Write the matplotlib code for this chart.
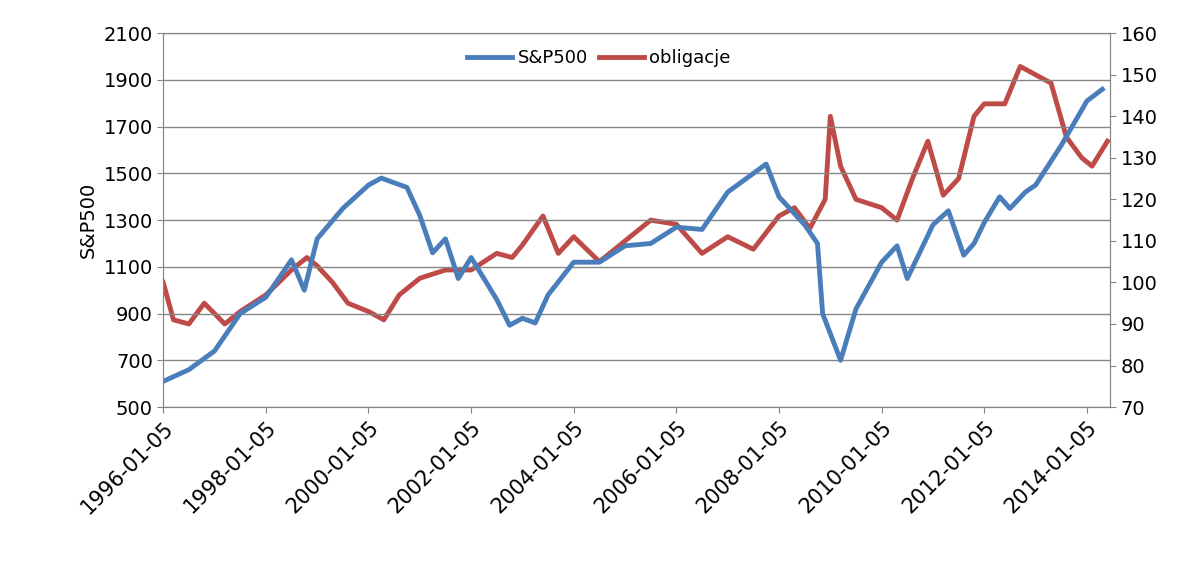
import matplotlib
matplotlib.use('Agg')
import matplotlib.pyplot as plt

# fractional years, values
sp_years = [1996.0, 1996.5, 1997.0, 1997.5, 1998.0, 1998.5, 1998.75, 1999.0, 1999.5, 2000.0,
            2000.25, 2000.5, 2000.75, 2001.0, 2001.25, 2001.5, 2001.75, 2002.0, 2002.5, 2002.75,
            2003.0, 2003.25, 2003.5, 2004.0, 2004.5, 2005.0, 2005.5, 2006.0, 2006.5, 2007.0,
            2007.5, 2007.75, 2008.0, 2008.5, 2008.75, 2008.85, 2009.2, 2009.5, 2010.0, 2010.3,
            2010.5, 2011.0, 2011.3, 2011.6, 2011.8, 2012.0, 2012.3, 2012.5, 2012.8, 2013.0,
            2013.5, 2014.0, 2014.3]
sp_values = [610, 660, 740, 900, 970, 1130, 1000, 1220, 1350, 1450,
             1480, 1460, 1440, 1320, 1160, 1220, 1050, 1140, 960, 850,
             880, 860, 980, 1120, 1120, 1190, 1200, 1270, 1260, 1420,
             1500, 1540, 1400, 1280, 1200, 900, 700, 920, 1120, 1190,
             1050, 1280, 1340, 1150, 1200, 1290, 1400, 1350, 1420, 1450,
             1620, 1810, 1860]

bond_years = [1996.0, 1996.2, 1996.5, 1996.8, 1997.2, 1997.5, 1998.0, 1998.5, 1998.8, 1999.0,
              1999.3, 1999.6, 2000.0, 2000.3, 2000.6, 2001.0, 2001.5, 2002.0, 2002.5, 2002.8,
              2003.0, 2003.4, 2003.7, 2004.0, 2004.5, 2005.0, 2005.5, 2006.0, 2006.5, 2007.0,
              2007.5, 2008.0, 2008.3, 2008.6, 2008.9, 2009.0, 2009.2, 2009.5, 2010.0, 2010.3,
              2010.6, 2010.9, 2011.2, 2011.5, 2011.8, 2012.0, 2012.4, 2012.7, 2013.0, 2013.3,
              2013.6, 2013.9, 2014.1, 2014.4]
bond_values = [100, 91, 90, 95, 90, 93, 97, 103, 106, 104,
               100, 95, 93, 91, 97, 101, 103, 103, 107, 106,
               109, 116, 107, 111, 105, 110, 115, 114, 107, 111,
               108, 116, 118, 113, 120, 140, 128, 120, 118, 115,
               125, 134, 121, 125, 140, 143, 143, 152, 150, 148,
               135, 130, 128, 134]

tick_years = [1996, 1998, 2000, 2002, 2004, 2006, 2008, 2010, 2012, 2014]
tick_labels = [f'{y}-01-05' for y in tick_years]

fig = plt.figure(figsize=(12, 5.63), dpi=100)
ax = fig.add_axes([0.136, 0.277, 0.789, 0.664])
ax2 = ax.twinx()

l1, = ax.plot(sp_years, sp_values, color='#4a7ebb', lw=3.5, label='S&P500')
l2, = ax2.plot(bond_years, bond_values, color='#be4b48', lw=3.5, label='obligacje')
ax.set_zorder(ax2.get_zorder() + 1)
ax.patch.set_visible(False)

ax.set_xlim(1996.0, 2014.45)
ax.set_ylim(500, 2100)
ax.set_yticks(range(500, 2101, 200))
ax2.set_ylim(70, 160)
ax2.set_yticks(range(70, 161, 10))
ax.grid(axis='y', color='#868686', lw=1)
ax.set_xticks(tick_years)
ax.set_xticklabels(tick_labels, rotation=45, ha='right', rotation_mode='anchor')
ax.set_ylabel('S&P500', fontsize=14)
for a in (ax, ax2):
    a.tick_params(labelsize=14, length=4, color='#868686')
    for s in a.spines.values():
        s.set_color('#868686')
ax.tick_params(axis='x', labelsize=15)

ax.legend(handles=[l1, l2], loc='upper center', ncol=2, frameon=False,
          fontsize=13, bbox_to_anchor=(0.46, 1.0), handlelength=2.5,
          columnspacing=0.6, handletextpad=0.3)

fig.savefig('out.png', dpi=100)
